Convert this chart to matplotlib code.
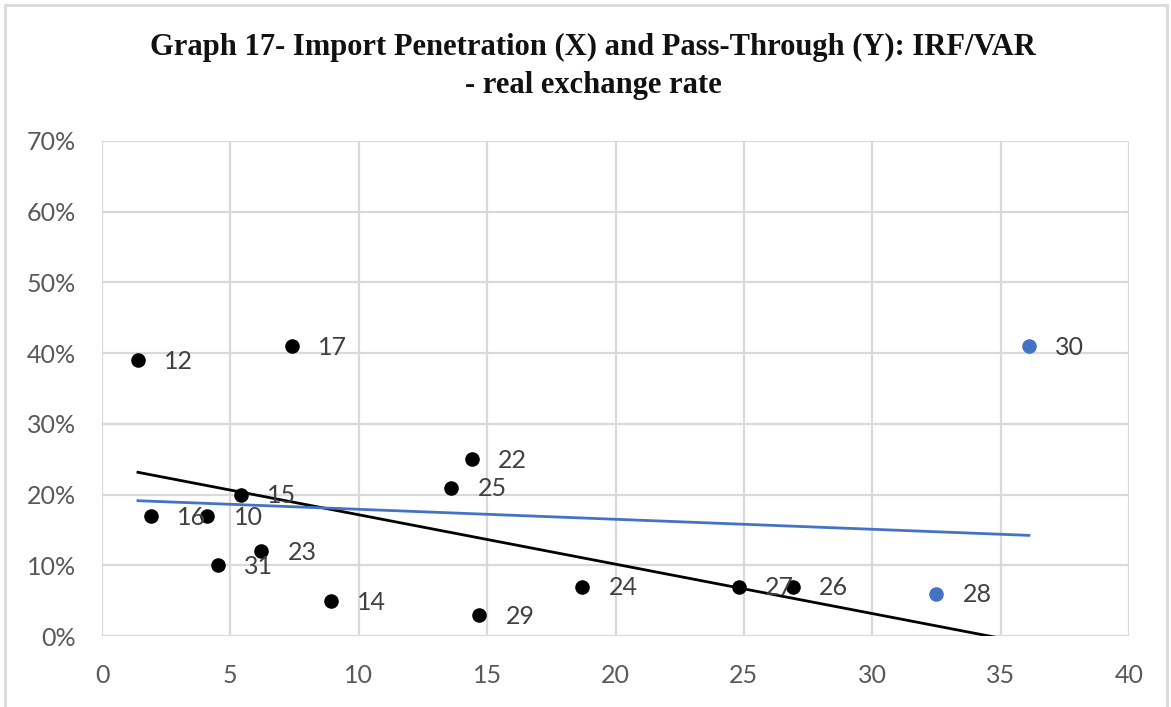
import numpy as np
import matplotlib
matplotlib.use("Agg")
import matplotlib.pyplot as plt
from matplotlib.patches import Rectangle

# Import penetration (X) and pass-through (Y, %) by sector
black_ids = ["12", "17", "16", "10", "15", "23", "31", "14", "22", "25", "24", "29", "27", "26"]
black_x = [1.4, 7.4, 1.9, 4.1, 5.4, 6.2, 4.5, 8.9, 14.4, 13.6, 18.7, 14.7, 24.8, 26.9]
black_y = [39, 41, 17, 17, 20, 12, 10, 5, 25, 21, 7, 3, 7, 7]

blue_ids = ["28", "30"]
blue_x = [32.5, 36.1]
blue_y = [6, 41]

x_ticks = [0, 5, 10, 15, 20, 25, 30, 35, 40]
y_ticks = [0, 10, 20, 30, 40, 50, 60, 70]

BLUE = "#4472C4"
GRID = "#d9d9d9"
TXT = "#595959"
LBL = "#404040"

fig = plt.figure(figsize=(11.71, 7.07), dpi=100)
ax = fig.add_axes([102 / 1171, 1 - 636 / 707, (1129 - 102) / 1171, (636 - 141) / 707])

# chart-area frame (runs past the lower edge)
fig.patches.append(Rectangle((5 / 1171, -0.02), 1162 / 1171, 1.02 - 5 / 707,
                             transform=fig.transFigure, fill=False,
                             edgecolor=GRID, linewidth=2))

ax.set_xlim(0, 40)
ax.set_ylim(0, 70)
ax.set_xticks(x_ticks)
ax.set_yticks(y_ticks)
ax.set_xticklabels([str(v) for v in x_ticks])
ax.set_yticklabels([f"{v}%" for v in y_ticks])
ax.grid(True, color=GRID, linewidth=1.6)
ax.set_axisbelow(True)
for s in ax.spines.values():
    s.set_visible(False)
ax.tick_params(length=0, labelsize=18, labelcolor=TXT)
ax.tick_params(axis="x", pad=20)
ax.tick_params(axis="y", pad=19)
for lab in ax.get_xticklabels() + ax.get_yticklabels():
    lab.set_fontfamily("Lato")

# trend lines: black series only (extended forward), and all points
bx = np.array(black_x, dtype=float)
by = np.array(black_y, dtype=float)
ax_all = np.concatenate([bx, blue_x])
ay_all = np.concatenate([by, blue_y])

kb = np.polyfit(bx, by, 1)
xs_b = np.array([bx.min(), 36.0])
ax.plot(xs_b, np.polyval(kb, xs_b), color="black", linewidth=2, zorder=2)

ka = np.polyfit(ax_all, ay_all, 1)
xs_a = np.array([ax_all.min(), ax_all.max()])
ax.plot(xs_a, np.polyval(ka, xs_a), color=BLUE, linewidth=2, zorder=2)

ax.scatter(black_x, black_y, s=110, color="black", zorder=3, linewidths=0)
ax.scatter(blue_x, blue_y, s=110, color=BLUE, zorder=3, linewidths=0)

for ids, xs, ys in ((black_ids, black_x, black_y), (blue_ids, blue_x, blue_y)):
    for t, x, y in zip(ids, xs, ys):
        ax.annotate(t, (x, y), xytext=(19, -1), textcoords="offset points",
                    ha="left", va="center", fontsize=18, color=LBL,
                    fontfamily="Lato", zorder=4)

fig.text(593 / 1171, 1 - 47 / 707,
         "Graph 17- Import Penetration (X) and Pass-Through (Y): IRF/VAR",
         ha="center", va="center", fontsize=22, fontweight="bold",
         fontfamily="Liberation Serif", color="#111111")
fig.text(593 / 1171, 1 - 85 / 707, "- real exchange rate",
         ha="center", va="center", fontsize=22, fontweight="bold",
         fontfamily="Liberation Serif", color="#111111")

fig.savefig("out.png", dpi=100)
